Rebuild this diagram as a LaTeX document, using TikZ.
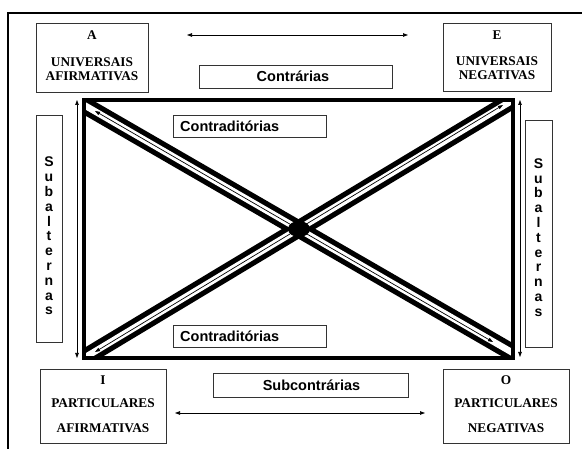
\documentclass[tikz,border=0pt]{standalone}
\usepackage{fontspec}
\setmainfont{Liberation Serif}
\newfontfamily\arialf{Liberation Sans}
\usetikzlibrary{arrows.meta}
\begin{document}
\begin{tikzpicture}[x=1pt,y=-1pt,
  box/.style={draw=black!80, line width=0.9pt, fill=white, inner sep=0pt},
  lbl/.style={font=\arialf\bfseries\fontsize{14.5}{16}\selectfont, inner sep=0pt},
  ttl/.style={font=\bfseries\fontsize{13.3}{14}\selectfont, align=center, inner sep=0pt},
  vlbl/.style={font=\arialf\bfseries\fontsize{14}{14.8}\selectfont, align=center, inner sep=0pt},
  dbl/.style={line width=0.7pt, {Triangle[length=5pt,width=3.5pt]}-{Triangle[length=5pt,width=3.5pt]}},
]
\useasboundingbox (0,0) rectangle (582,449);
% outer frame (top and left)
\draw[line width=2.5pt] (8,449) -- (8,13) -- (582,13);

% corner boxes
\node[box, minimum width=112pt, minimum height=69pt] (A) at (92,57.5) {};
\node[ttl] (Aa) at (92,35) {A};
\node[ttl] (Ab) at (92,69.5) {UNIVERSAIS\\AFIRMATIVAS};

\node[box, minimum width=108pt, minimum height=68pt] (E) at (497,57) {};
\node[ttl] (Ea) at (497,35) {E};
\node[ttl] (Eb) at (497,68.5) {UNIVERSAIS\\NEGATIVAS};

\node[box, minimum width=126pt, minimum height=74pt] (I) at (103,406) {};
\node[ttl] (Ia) at (103,380) {I};
\node[ttl] (Ib) at (103,403) {PARTICULARES};
\node[ttl] (Ic) at (103,428) {AFIRMATIVAS};

\node[box, minimum width=126pt, minimum height=74pt] (O) at (506,406) {};
\node[ttl] (Oa) at (506,380) {O};
\node[ttl] (Ob) at (506,403) {PARTICULARES};
\node[ttl] (Oc) at (506,428) {NEGATIVAS};

% label boxes
\node[box, minimum width=193pt, minimum height=23pt] (Cb) at (295.5,76.5) {};
\node[lbl] (C) at (293,76.5) {Contrárias};
\node[box, minimum width=195pt, minimum height=24pt] (Sb) at (310.5,385) {};
\node[lbl] (S) at (311.5,385) {Subcontrárias};

% subalternas
\node[box, minimum width=26pt, minimum height=227pt] (L) at (49,228.5) {};
\node[vlbl] (Lt) at (49,236) {S\\u\\b\\a\\l\\t\\e\\r\\n\\a\\s};
\node[box, minimum width=27pt, minimum height=227pt] (R) at (538.5,233.5) {};
\node[vlbl] (Rt) at (538.5,237.5) {S\\u\\b\\a\\l\\t\\e\\r\\n\\a\\s};

% arrows outside the square
\coordinate (t1) at (187,35); \coordinate (t2) at (408,35);
\coordinate (b1) at (175,413); \coordinate (b2) at (425,413);
\coordinate (l1) at (77,100); \coordinate (l2) at (77,358);
\coordinate (r1) at (520,100); \coordinate (r2) at (520,357);
\draw[dbl] (t1) -- (t2);
\draw[dbl] (b1) -- (b2);
\draw[dbl] (l1) -- (l2);
\draw[dbl] (r1) -- (r2);

% square of opposition
\coordinate (q1) at (84,100); \coordinate (q2) at (513,358);
\coordinate (d1s) at (70,96.9); \coordinate (d1e) at (530,362.8);
\coordinate (d2s) at (70,366.4); \coordinate (d2e) at (530,89.8);
\coordinate (a1s) at (95,111); \coordinate (a1e) at (493,342);
\coordinate (a2s) at (95,352); \coordinate (a2e) at (503,105);
\begin{scope}
  \clip (q1) rectangle (q2);
  \draw[line width=17pt] (d1s) -- (d1e);
  \draw[line width=17pt] (d2s) -- (d2e);
  \draw[line width=6.5pt, white] (d1s) -- (d1e);
  \draw[line width=6.5pt, white] (d2s) -- (d2e);
  \draw[dbl] (a1s) -- (a1e);
  \draw[dbl] (a2s) -- (a2e);
\end{scope}
\draw[line width=4pt] (q1) rectangle (q2);
\fill (299,229) ellipse [x radius=11pt, y radius=8pt];
\node (ctr) at (299,229) {};

% contraditorias boxes
\node[box, minimum width=153pt, minimum height=22pt] (K1b) at (249.5,126) {};
\node[lbl, anchor=west] (K1) at (180,126) {Contraditórias};
\node[box, minimum width=153pt, minimum height=22pt] (K2b) at (249.5,336) {};
\node[lbl, anchor=west] (K2) at (180,336) {Contraditórias};
\end{tikzpicture}
\end{document}
